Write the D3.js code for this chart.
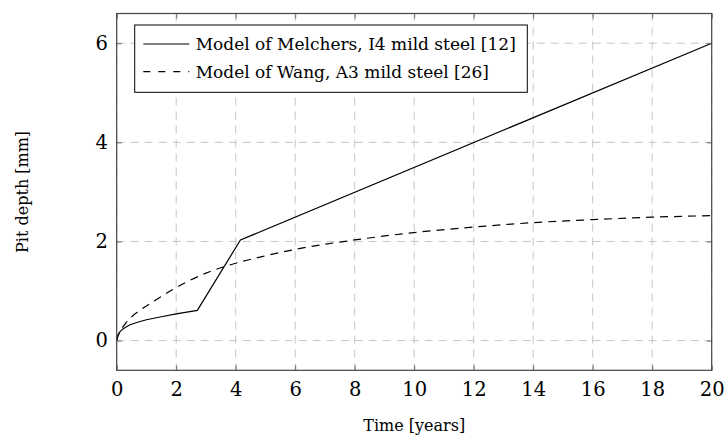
<!DOCTYPE html>
<html>
<head>
<meta charset="utf-8">
<script src="https://cdn.jsdelivr.net/npm/d3@7"></script>
<style>
  body { margin: 0; background: #fff; }
  svg text { font-family: "DejaVu Serif", serif; fill: #000; }
</style>
</head>
<body>
<div id="chart"></div>
<script>
// values
const melchersT = [0, 0.02, 0.05, 0.1, 0.2, 0.3, 0.45, 0.7, 1.0, 1.5, 2.0, 2.71, 4.16, 20];
const melchersD = [0, 0.07, 0.12, 0.17, 0.23, 0.27, 0.32, 0.37, 0.42, 0.48, 0.54, 0.61, 2.03, 6.0];

const wangT = [0, 0.05, 0.15, 0.3, 0.6, 1, 1.5, 2, 3, 4, 5, 6, 8, 10, 12, 14, 16, 18, 20];
const wangD = [0, 0.1, 0.22, 0.35, 0.53, 0.70, 0.89, 1.07, 1.36, 1.56, 1.71, 1.84, 2.03, 2.18, 2.29, 2.38, 2.44, 2.49, 2.52];

const xTicks = [0, 2, 4, 6, 8, 10, 12, 14, 16, 18, 20];
const yTicks = [0, 2, 4, 6];

const legendLabels = ['Model of Melchers, I4 mild steel [12]', 'Model of Wang, A3 mild steel [26]'];

const W = 726, H = 437;
const margin = {left: 116.7, top: 13.5, right: W - 711.7, bottom: H - 370.3};
const w = W - margin.left - margin.right;
const h = H - margin.top - margin.bottom;

const svg = d3.select('#chart').append('svg')
    .attr('width', W)
    .attr('height', H);

const plot = svg.append('g')
    .attr('transform', `translate(${margin.left},${margin.top})`);

const x = d3.scaleLinear().domain([0, 20]).range([0, w]);
const y = d3.scaleLinear().domain([-0.6, 6.6]).range([h, 0]);

// grid
plot.append('g')
    .attr('class', 'grid')
    .selectAll('line.gx')
    .data(xTicks)
    .enter().append('line')
    .attr('x1', d => x(d)).attr('x2', d => x(d))
    .attr('y1', 0).attr('y2', h);
plot.select('.grid')
    .selectAll('line.gy')
    .data(yTicks)
    .enter().append('line')
    .attr('x1', 0).attr('x2', w)
    .attr('y1', d => y(d)).attr('y2', d => y(d));
plot.selectAll('.grid line')
    .style('stroke', '#c6c6c6')
    .style('stroke-width', '1px')
    .style('stroke-dasharray', '8,6');

// series
const melchers = melchersT.map((t, i) => [t, melchersD[i]]);
const wang = wangT.map((t, i) => [t, wangD[i]]);

plot.append('path')
    .datum(melchers)
    .attr('d', d3.line().x(d => x(d[0])).y(d => y(d[1])))
    .style('fill', 'none')
    .style('stroke', '#000')
    .style('stroke-width', '1.2px');

plot.append('path')
    .datum(wang)
    .attr('d', d3.line().curve(d3.curveMonotoneX).x(d => x(d[0])).y(d => y(d[1])))
    .style('fill', 'none')
    .style('stroke', '#000')
    .style('stroke-width', '1.2px')
    .style('stroke-dasharray', '8,6');

// axes (ticks point inwards, mirrored on top / right)
const tickFont = '19.5px';

const xAxis = plot.append('g')
    .attr('transform', `translate(0,${h})`)
    .call(d3.axisBottom(x).tickValues(xTicks).tickSizeInner(-5).tickSizeOuter(0).tickPadding(11.5));
const xTop = plot.append('g')
    .call(d3.axisTop(x).tickValues(xTicks).tickSizeInner(-5).tickSizeOuter(0).tickFormat(''));
const yAxis = plot.append('g')
    .call(d3.axisLeft(y).tickValues(yTicks).tickSizeInner(-5).tickSizeOuter(0).tickPadding(8.7));
const yRight = plot.append('g')
    .attr('transform', `translate(${w},0)`)
    .call(d3.axisRight(y).tickValues(yTicks).tickSizeInner(-5).tickSizeOuter(0).tickFormat(''));

[xAxis, xTop, yAxis, yRight].forEach(a => {
    a.select('.domain').remove();
    a.selectAll('.tick line').style('stroke', '#6a6a6a').style('stroke-width', '1px');
    a.selectAll('.tick text').style('font-size', tickFont).style('font-family', '"DejaVu Serif", serif');
});

// frame
plot.append('rect')
    .attr('x', 0).attr('y', 0)
    .attr('width', w).attr('height', h)
    .style('fill', 'none')
    .style('stroke', '#444')
    .style('stroke-width', '1.2px');

// axis labels
svg.append('text')
    .attr('x', margin.left + w / 2)
    .attr('y', 430.5)
    .attr('text-anchor', 'middle')
    .style('font-size', '16px')
    .text('Time [years]');

svg.append('text')
    .attr('transform', `translate(22.5,${margin.top + h / 2}) rotate(-90)`)
    .attr('text-anchor', 'middle')
    .attr('dy', '0.35em')
    .style('font-size', '16px')
    .text('Pit depth [mm]');

// legend
const legend = svg.append('g');
legend.append('rect')
    .attr('x', 134.7).attr('y', 25)
    .attr('width', 527.3 - 134.7).attr('height', 92.3 - 25)
    .style('fill', '#fff')
    .style('stroke', '#000')
    .style('stroke-width', '1px');

const rows = legend.selectAll('.row')
    .data(legendLabels)
    .enter().append('g')
    .attr('class', 'row')
    .attr('transform', (d, i) => `translate(0,${44 + i * 27.7})`);

rows.append('line')
    .attr('x1', 143.3).attr('x2', 189.3)
    .attr('y1', 0).attr('y2', 0)
    .style('stroke', '#000')
    .style('stroke-width', '1.2px')
    .style('stroke-dasharray', (d, i) => i === 1 ? '7,8' : null);

rows.append('text')
    .attr('x', 195.7)
    .attr('dy', '0.35em')
    .style('font-size', '17px')
    .text(d => d);
</script>
</body>
</html>
